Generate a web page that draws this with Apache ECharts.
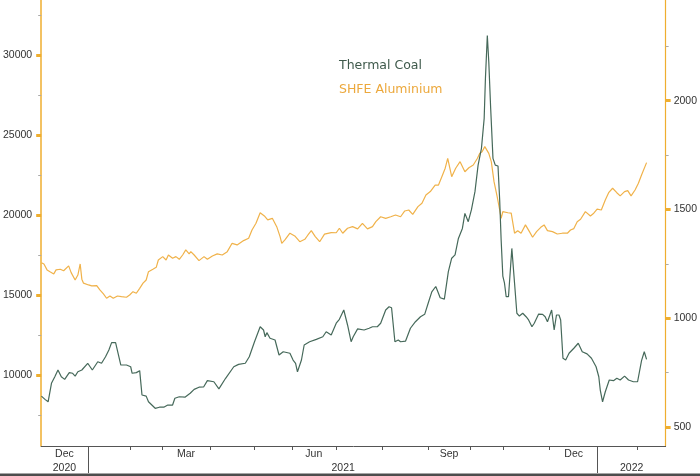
<!DOCTYPE html>
<html>
<head>
<meta charset="utf-8">
<script src="https://cdn.jsdelivr.net/npm/echarts@6/dist/echarts.min.js"></script>
<style>
html, body { margin: 0; padding: 0; background: #fff; }
#chart { width: 700px; height: 476px; }
</style>
</head>
<body>
<div id="chart"></div>
<script>
// x is a trading-day index, day 0 = 1 Dec 2020
const monthNames = ['Dec', 'Jan', 'Feb', 'Mar', 'Apr', 'May', 'Jun', 'Jul', 'Aug', 'Sep', 'Oct', 'Nov', 'Dec', 'Jan'];
const tradingDays = [23, 20, 15, 23, 21, 18, 21, 22, 22, 20, 16, 22, 23, 19];
const labelledMonths = [0, 3, 6, 9, 12];
const yearNames = ['2020', '2021', '2022'];
const yearFirstMonth = [0, 1, 13];

const alTickValues = [10000, 15000, 20000, 25000, 30000];
const alMinorValues = [7500, 12500, 17500, 22500, 27500, 32500];
const coalTickValues = [500, 1000, 1500, 2000];
const coalMinorValues = [750, 1250, 1750, 2250];

// [trading day, yuan/t]
const aluminium = [
  [0, 17030], [1.2, 16950], [2.7, 16580], [4.3, 16450], [5.9, 16330], [7.0, 16580], [9.0, 16620], [10.6, 16530],
  [13.0, 16830], [14.2, 16410], [16.1, 15950], [17.4, 16260], [18.5, 16950], [19.3, 16000], [20.1, 15750],
  [22.5, 15640], [24.0, 15580], [26.4, 15600], [27.9, 15330], [29.6, 15080], [31.1, 14810], [32.7, 14950],
  [34.3, 14810], [36.3, 14950], [38.2, 14910], [40.6, 14870], [42.1, 15010], [43.7, 15220], [45.3, 15120],
  [46.9, 15430], [48.5, 15750], [50.0, 15950], [51.1, 16470], [53.2, 16620], [54.8, 16740], [55.8, 17200],
  [57.9, 17410], [59.5, 17200], [60.6, 17510], [62.6, 17310], [64.2, 17410], [65.8, 17240], [67.4, 17510],
  [68.9, 17830], [70.5, 17580], [71.3, 17720], [72.9, 17510], [75.2, 17160], [77.6, 17410], [79.2, 17240],
  [81.6, 17450], [83.9, 17580], [86.3, 17510], [88.7, 17720], [91.0, 18240], [93.4, 18140], [96.5, 18410],
  [98.9, 18560], [100.5, 19070], [102.4, 19490], [104.4, 20150], [106.4, 19950], [108.0, 19700], [110.2, 19800],
  [112.3, 19280], [113.9, 18660], [114.7, 18240], [116.2, 18450], [118.6, 18870], [120.9, 18700], [123.3, 18340],
  [125.7, 18490], [127.2, 18760], [128.8, 19030], [130.7, 18660], [132.8, 18340], [135.1, 18810], [138.3, 18910],
  [140.7, 18900], [142.2, 19180], [143.8, 18870], [146.1, 19180], [148.5, 19280], [150.9, 19140], [153.2, 19490],
  [155.6, 19140], [158.0, 19280], [159.6, 19590], [161.9, 19900], [164.3, 19800], [166.7, 19900], [169.0, 20010],
  [171.4, 19900], [173.4, 20260], [175.3, 20320], [177.2, 20050], [179.7, 20530], [181.6, 20740], [183.5, 21260],
  [185.6, 21470], [187.9, 21880], [189.5, 21880], [191.1, 22400], [192.7, 22930], [193.9, 23550], [195.8, 22400],
  [197.7, 22930], [199.8, 23340], [202.1, 22710], [204.0, 22960], [206.1, 23130], [208.1, 23550], [209.2, 23860],
  [210.3, 23960], [211.6, 24280], [212.5, 24380], [213.5, 23860], [214.7, 23340], [216.0, 22090], [217.5, 21150],
  [218.7, 20320], [219.4, 19800], [220.2, 20220], [222.6, 20150], [224.2, 20120], [225.8, 18870], [227.3, 19030],
  [228.9, 18870], [231.0, 19390], [232.9, 18970], [234.4, 18620], [236.3, 18970], [238.3, 19240], [239.9, 19390],
  [241.5, 19030], [243.9, 18970], [246.2, 18820], [248.6, 18870], [251.0, 18870], [252.5, 19070], [254.1, 19160],
  [255.7, 19590], [257.3, 19740], [259.6, 20220], [262.0, 19950], [263.6, 20120], [265.2, 20370], [267.2, 20320],
  [269.1, 20950], [270.7, 21400], [272.6, 21680], [274.6, 21400], [276.2, 21200], [278.3, 21470], [279.8, 21530],
  [281.4, 21200], [283.3, 21570], [284.9, 21990], [286.4, 22510], [288.8, 23280]
];

const thermalCoal = [
  [0, 642], [1.7, 627], [3.2, 616], [4.8, 701], [6.4, 731], [7.9, 762], [9.5, 731], [11.1, 719], [13.3, 750],
  [14.9, 747], [16.1, 734], [17.4, 754], [19.3, 762], [22.1, 793], [24.3, 762], [26.9, 800], [28.7, 793],
  [30.6, 823], [32.2, 854], [33.5, 888], [35.4, 888], [37.9, 785], [40.6, 785], [42.6, 777], [43.3, 747],
  [45.3, 750], [46.9, 759], [48.0, 647], [50.0, 642], [51.1, 616], [52.7, 601], [54.3, 586], [56.3, 591],
  [58.4, 591], [60.3, 601], [62.6, 601], [63.7, 632], [65.8, 639], [68.5, 637], [71.0, 655], [72.9, 673],
  [75.2, 683], [77.4, 684], [79.2, 713], [82.3, 708], [84.7, 675], [87.9, 724], [91.8, 777], [94.1, 788],
  [97.3, 793], [99.2, 823], [101.7, 892], [104.4, 961], [106.0, 946], [106.8, 915], [107.6, 934], [109.1, 908],
  [111.5, 900], [113.4, 831], [115.4, 846], [118.6, 839], [120.1, 808], [121.3, 793], [122.2, 754], [124.1, 808],
  [125.4, 877], [128.0, 892], [131.2, 903], [134.3, 915], [135.9, 938], [138.3, 923], [140.7, 977], [142.2, 995],
  [144.3, 1038], [146.1, 969], [147.8, 892], [148.8, 915], [150.9, 951], [154.0, 946], [156.4, 954], [158.0, 961],
  [160.3, 961], [161.9, 977], [164.3, 1038], [165.9, 1053], [167.1, 1048], [168.7, 892], [170.3, 900],
  [171.4, 892], [173.8, 895], [176.1, 954], [178.5, 984], [180.9, 1007], [182.9, 1018], [184.8, 1076],
  [186.3, 1121], [188.2, 1146], [189.2, 1122], [190.3, 1094], [192.3, 1088], [194.2, 1214], [195.8, 1276],
  [197.4, 1291], [199.0, 1367], [200.9, 1413], [202.1, 1482], [203.7, 1444], [205.2, 1498], [206.9, 1582],
  [208.4, 1704], [210.0, 1781], [211.3, 1919], [211.9, 2103], [212.8, 2300], [213.5, 2179], [214.4, 1965],
  [215.5, 1735], [216.6, 1704], [217.9, 1700], [218.7, 1544], [219.4, 1360], [220.2, 1194], [221.0, 1161],
  [221.8, 1099], [222.9, 1099], [224.5, 1321], [225.8, 1161], [226.9, 1023], [228.1, 1010], [229.7, 1023],
  [231.3, 1007], [232.5, 992], [234.1, 961], [235.2, 977], [237.3, 1019], [239.2, 1018], [240.4, 1007],
  [241.5, 984], [243.5, 1038], [244.7, 946], [245.8, 1015], [247.0, 1015], [247.8, 992], [248.9, 816],
  [250.2, 808], [251.8, 839], [254.1, 862], [256.2, 885], [258.1, 846], [260.4, 836], [262.5, 816], [264.7, 777],
  [266.0, 731], [266.7, 670], [267.8, 616], [269.1, 662], [269.9, 670], [271.0, 716], [273.0, 713], [274.6, 724],
  [276.2, 716], [278.3, 734], [280.2, 716], [282.5, 708], [284.5, 708], [286.4, 805], [287.7, 846], [288.8, 811]
];

// axis ranges (plot runs from the top edge down to the date axis)
const xMin = -0.1, xMax = 297.9;
const alMin = 5582, alMax = 33435;
const coalMin = 412.7, coalMax = 2463;

// month boundaries sit half a day before the first trading day of each month
const bounds = [-0.5];
tradingDays.forEach(function (n, i) { bounds.push(bounds[i] + n); });
const monthTicks = bounds.slice(1);
const monthLabelPos = labelledMonths.map(function (m) { return (bounds[m] + bounds[m + 1]) / 2; });
const monthLabelText = labelledMonths.map(function (m) { return monthNames[m]; });
const yearTicks = yearFirstMonth.slice(1).map(function (m) { return bounds[m]; });
const yearEdges = yearFirstMonth.map(function (m) { return bounds[m]; }).concat([xMax]);
const yearLabelPos = yearNames.map(function (y, i) { return (yearEdges[i] + yearEdges[i + 1]) / 2; });

function nearestLabel(positions, names) {
  return function (v) {
    let best = 0;
    for (let i = 1; i < positions.length; i++) {
      if (Math.abs(positions[i] - v) < Math.abs(positions[best] - v)) best = i;
    }
    return names[best];
  };
}

const labelFont = 'Liberation Sans';
const orange = '#efae2f';
const axisGrey = '#555';

const chart = echarts.init(document.getElementById('chart'));
chart.setOption({
  animation: false,
  backgroundColor: '#fff',
  grid: { left: 39, right: 30.7, top: 0, bottom: 30 },
  legend: {
    orient: 'vertical',
    left: 334,
    top: 58.7,
    padding: 0,
    icon: 'none',
    itemWidth: 0,
    itemHeight: 14,
    itemGap: 9.6,
    selectedMode: false,
    textStyle: { fontFamily: 'DejaVu Sans', fontSize: 12.5, lineHeight: 14 },
    data: [
      { name: 'Thermal Coal', textStyle: { color: '#3f5a4c' } },
      { name: 'SHFE Aluminium', textStyle: { color: '#eca83c' } }
    ]
  },
  xAxis: [
    {
      type: 'value', position: 'bottom', min: xMin, max: xMax,
      axisLine: { onZero: false, lineStyle: { color: axisGrey, width: 1 } },
      axisTick: { customValues: monthTicks, length: 4, lineStyle: { color: axisGrey } },
      axisLabel: {
        customValues: monthLabelPos, formatter: nearestLabel(monthLabelPos, monthLabelText),
        margin: 3, color: '#333', fontFamily: labelFont, fontSize: 10.5
      },
      splitLine: { show: false }
    },
    {
      type: 'value', position: 'bottom', min: xMin, max: xMax,
      axisLine: { show: false, onZero: false },
      axisTick: { customValues: yearTicks, length: 27, lineStyle: { color: axisGrey } },
      axisLabel: {
        customValues: yearLabelPos, formatter: nearestLabel(yearLabelPos, yearNames),
        margin: 16.5, color: '#333', fontFamily: labelFont, fontSize: 10.5
      },
      splitLine: { show: false }
    }
  ],
  yAxis: [
    {
      type: 'value', position: 'left', min: alMin, max: alMax,
      axisLine: { show: true, onZero: false, lineStyle: { color: orange, width: 1.5 } },
      axisTick: { show: true, customValues: alTickValues, length: 5, lineStyle: { color: orange, width: 3 } },
      axisLabel: {
        customValues: alTickValues, formatter: function (v) { return String(v); },
        margin: 9, color: '#333', fontFamily: labelFont, fontSize: 10.5
      },
      splitLine: { show: false }
    },
    {
      type: 'value', position: 'right', min: coalMin, max: coalMax,
      axisLine: { show: true, onZero: false, lineStyle: { color: orange, width: 1.2 } },
      axisTick: { show: true, customValues: coalTickValues, length: 5, lineStyle: { color: orange, width: 3 } },
      axisLabel: {
        customValues: coalTickValues, formatter: function (v) { return String(v); },
        margin: 8, color: '#333', fontFamily: labelFont, fontSize: 10.5
      },
      splitLine: { show: false }
    },
    {
      type: 'value', position: 'left', min: alMin, max: alMax,
      axisLine: { show: false, onZero: false },
      axisTick: { show: true, customValues: alMinorValues, length: 3, lineStyle: { color: '#aaa' } },
      axisLabel: { show: false },
      splitLine: { show: false }
    },
    {
      type: 'value', position: 'right', min: coalMin, max: coalMax,
      axisLine: { show: false, onZero: false },
      axisTick: { show: true, customValues: coalMinorValues, length: 3, lineStyle: { color: '#aaa' } },
      axisLabel: { show: false },
      splitLine: { show: false }
    }
  ],
  graphic: [
    { type: 'rect', shape: { x: 0, y: 473.5, width: 700, height: 2.5 }, style: { fill: '#4d4d4d' }, silent: true }
  ],
  series: [
    {
      name: 'SHFE Aluminium', type: 'line', yAxisIndex: 0, data: aluminium,
      symbol: 'none', color: '#f0b24a',
      lineStyle: { color: '#f0b24a', width: 1.2 }, z: 2
    },
    {
      name: 'Thermal Coal', type: 'line', yAxisIndex: 1, data: thermalCoal,
      symbol: 'none', color: '#46695a',
      lineStyle: { color: '#46695a', width: 1.2 }, z: 3
    }
  ]
});
</script>
</body>
</html>
